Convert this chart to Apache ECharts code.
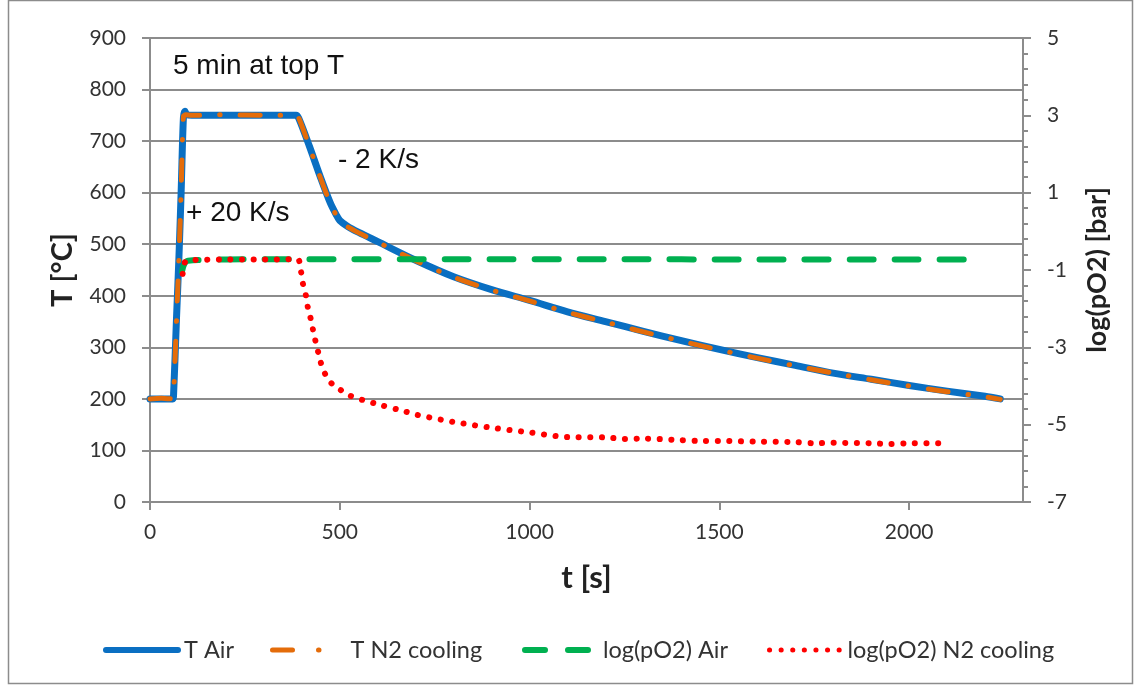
<!DOCTYPE html>
<html>
<head>
<meta charset="utf-8">
<script src="https://cdn.jsdelivr.net/npm/echarts@6/dist/echarts.min.js"></script>
<style>html,body{margin:0;padding:0;background:#fff;}#c{width:1135px;height:686px;}</style>
</head>
<body>
<div id="c"></div>
<script>
// ---- data ----
const xTicks = [0, 500, 1000, 1500, 2000];
const tempAir = [[0,200],[30,200],[60,200],[62,206],[70,360],[76,470],[82,600],[88,745],[92,758],[96,752],[110,750],[200,750],[300,750],[385,750],[392,744],[420,690],[450,628],[475,580],[490,558],[500,546],[520,535],[550,523],[600,505],[700,469],[800,437],[900,412],[1000,391],[1100,369],[1200,350],[1300,331],[1400,313],[1500,296],[1600,280],[1700,265],[1800,250],[1900,238],[2000,226],[2100,215],[2200,205],[2240,200]];
const tempN2 = [[0,200],[30,201],[60,200],[62,205],[70,355],[76,468],[82,602],[88,748],[94,751],[110,750],[200,751],[300,750],[385,750],[392,745],[420,689],[450,627],[475,579],[490,557],[500,545],[520,534],[550,522],[600,504],[700,468],[800,436],[900,411],[1000,390],[1100,368],[1200,349],[1300,330],[1400,312],[1500,295],[1600,279],[1700,264],[1800,250],[1900,237],[2000,225],[2100,214],[2200,204],[2240,199]];
const pO2Air = [[84,-1.05],[90,-0.85],[100,-0.76],[200,-0.73],[400,-0.72],[800,-0.72],[1200,-0.72],[1600,-0.73],[2000,-0.73],[2150,-0.73],[2181,-0.77]];
const pO2N2 = [[86,-1.1],[92,-0.8],[100,-0.75],[200,-0.73],[300,-0.73],[388,-0.72],[398,-1.05],[403,-1.36],[411,-1.67],[417,-2.03],[425,-2.32],[432,-2.68],[440,-2.99],[448,-3.33],[459,-3.64],[475,-3.9],[496,-4.06],[527,-4.25],[560,-4.36],[607,-4.49],[672,-4.66],[700,-4.74],[800,-4.93],[900,-5.08],[1000,-5.2],[1100,-5.32],[1200,-5.33],[1250,-5.37],[1300,-5.36],[1400,-5.40],[1450,-5.42],[1500,-5.42],[1600,-5.44],[1700,-5.45],[1750,-5.48],[1800,-5.47],[1900,-5.48],[1950,-5.50],[2000,-5.48],[2095,-5.48]];

const seriesNames = ['T Air', 'T N2 cooling', 'log(pO2) Air', 'log(pO2) N2 cooling'];
const legendLeft = [103, 270, 522, 767];

const colors = ['#0a6fc2', '#e46c0a', '#00b050', '#ff0000'];
const lineStyles = [
  {color: colors[0], width: 7, type: 'solid', cap: 'round', join: 'round'},
  {color: colors[1], width: 5, type: [20, 20, 0.5, 20], cap: 'round', join: 'round'},
  {color: colors[2], width: 6, type: [24, 21], cap: 'round', join: 'round'},
  {color: colors[3], width: 6, type: [0.1, 11.5], cap: 'round', join: 'round'}
];
const legendLineStyles = [
  {color: colors[0], width: 6, type: 'solid', cap: 'round'},
  {color: colors[1], width: 5, type: [20, 26, 0.5, 40], cap: 'round'},
  {color: colors[2], width: 6, type: [20, 23], cap: 'round'},
  {color: colors[3], width: 5, type: [0.1, 11.5], cap: 'round'}
];

const chart = echarts.init(document.getElementById('c'), null, {renderer: 'canvas'});
const gridColor = '#8c8c8c';
const labelFont = {fontFamily: 'Lato', fontSize: 21, color: '#333'};

const option = {
  animation: false,
  backgroundColor: '#fff',
  grid: {left: 150, right: 112, top: 38, bottom: 184, containLabel: false},
  legend: seriesNames.map((n, i) => ({
    data: [n], left: legendLeft[i], top: 638, padding: 0, itemWidth: 72, itemHeight: 14, itemGap: 5,
    lineStyle: legendLineStyles[i],
    itemStyle: {color: 'rgba(0,0,0,0)', borderWidth: 0},
    textStyle: {fontFamily: 'Lato', fontSize: 23.5, color: '#333', padding: [0,0,0,1]}
  })),
  xAxis: {
    type: 'value', min: 0, max: 2300, interval: 500,
    name: 't [s]', nameLocation: 'middle', nameGap: 60,
    nameTextStyle: {fontFamily: 'Lato', fontWeight: 'bold', fontSize: 31, color: '#222'},
    axisLine: {show: true, lineStyle: {color: gridColor, width: 2}},
    axisTick: {show: true, length: 8, lineStyle: {color: gridColor, width: 2}, customValues: xTicks},
    axisLabel: Object.assign({margin: 20, customValues: xTicks, formatter: v => String(v)}, labelFont),
    splitLine: {show: false}
  },
  yAxis: [{
    type: 'value', min: 0, max: 900, interval: 100, position: 'left',
    name: 'T [°C]', nameLocation: 'middle', nameGap: 73, nameRotate: 90,
    nameTextStyle: {fontFamily: 'Lato', fontWeight: 'bold', fontSize: 29, color: '#222'},
    axisLine: {show: true, lineStyle: {color: gridColor, width: 2}},
    axisTick: {show: true, length: 8, lineStyle: {color: gridColor, width: 2}},
    axisLabel: Object.assign({margin: 24, formatter: v => String(v)}, labelFont),
    splitLine: {show: true, lineStyle: {color: gridColor, width: 2}}
  }, {
    type: 'value', min: -7, max: 5, interval: 2, position: 'right',
    name: 'log(pO2) [bar]', nameLocation: 'middle', nameGap: 61, nameRotate: 90,
    nameTextStyle: {fontFamily: 'Lato', fontWeight: 'bold', fontSize: 27, color: '#222'},
    axisLine: {show: true, lineStyle: {color: gridColor, width: 2}},
    axisTick: {show: true, length: 8, lineStyle: {color: gridColor, width: 2}},
    minorTick: {show: true, splitNumber: 5, length: 5, lineStyle: {color: gridColor, width: 2}},
    axisLabel: Object.assign({margin: 24, formatter: v => String(v)}, labelFont),
    splitLine: {show: false}
  }],
  series: seriesNames.map((n, i) => ({
    name: n, type: 'line', yAxisIndex: i < 2 ? 0 : 1,
    data: [tempAir, tempN2, pO2Air, pO2N2][i],
    symbol: 'none', smooth: 0.3,
    lineStyle: lineStyles[i], itemStyle: {color: colors[i]}, z: 2 + i
  })),
  graphic: [
    {type: 'rect', shape: {x: 8.5, y: 0.5, width: 1124, height: 683}, style: {fill: 'none', stroke: '#8c8c8c', lineWidth: 1.5}, silent: true},
    {type: 'text', left: 173, top: 52, style: {text: '5 min at top T', font: '28px "Liberation Sans"', fill: '#111'}},
    {type: 'text', left: 338, top: 146, style: {text: '- 2 K/s', font: '28px "Liberation Sans"', fill: '#111'}},
    {type: 'text', left: 186, top: 199, style: {text: '+ 20 K/s', font: '28px "Liberation Sans"', fill: '#111'}}
  ]
};
chart.setOption(option);
</script>
</body>
</html>
